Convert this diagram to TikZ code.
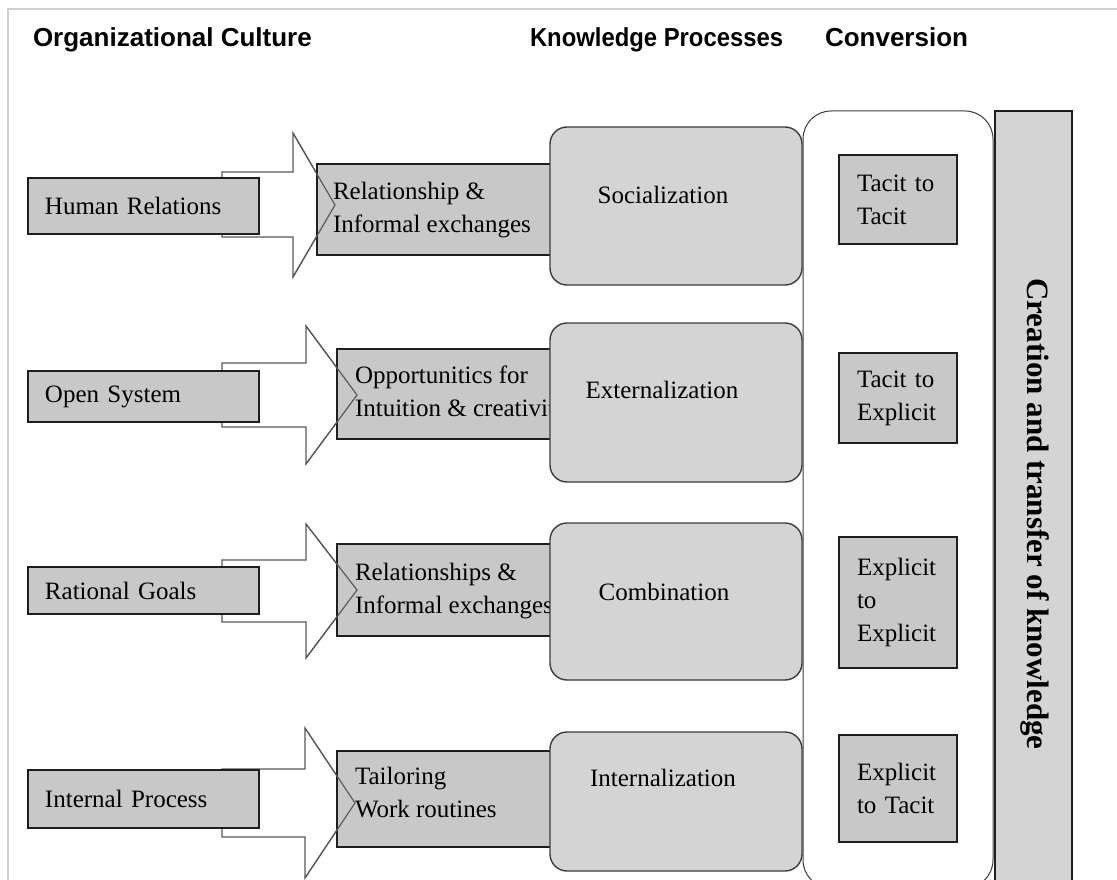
\documentclass[tikz,border=0pt]{standalone}
\usepackage{fontspec}
\setmainfont{Liberation Serif}
\newfontfamily\hdrfont{Liberation Sans}
\definecolor{boxgray}{HTML}{C8C8C8}
\definecolor{roundgray}{HTML}{D4D4D4}
\definecolor{edge}{HTML}{1E1E1E}
\definecolor{redge}{HTML}{3C3C3C}
\definecolor{arrowedge}{HTML}{5A5A5A}
\definecolor{framegray}{HTML}{D0D0D0}
\newcommand{\blockarrow}[8]{%
  \draw[arrowbody] (#1,#2) -- (#4,#2) -- (#4,#5) -- (#7,#8) -- (#4,#6) -- (#4,#3) -- (#1,#3) -- cycle;}
\newcommand{\arrowhead}[5]{%
  \draw[arrowline] (#1,#2) -- (#4,#5) -- (#1,#3);}
\begin{document}
\begin{tikzpicture}[x=1pt,y=-1pt,
  every node/.style={inner sep=0pt, outer sep=0pt},
  txt/.style={font=\fontsize{25}{33}\selectfont},
  hdr/.style={font=\hdrfont\bfseries\fontsize{26}{30}\selectfont, anchor=base west},
  leftbox/.style={draw=edge, line width=1.6pt, fill=boxgray, anchor=north west, txt, align=left, inner xsep=17pt, minimum width=231pt},
  midbox/.style={draw=edge, line width=1.6pt, fill=boxgray, anchor=north west},
  midtext/.style={txt, align=left, anchor=west},
  kbox/.style={draw=redge, line width=1.4pt, fill=roundgray, rounded corners=17pt, anchor=north west, minimum width=252pt},
  convbig/.style={draw=redge, line width=1pt, fill=white, rounded corners=28pt, anchor=north west},
  convbox/.style={draw=edge, line width=1.6pt, fill=boxgray, anchor=north west, txt, align=left, inner xsep=18pt, text width=82pt},
  barbox/.style={draw=edge, line width=1.4pt, fill=roundgray, anchor=north west},
  arrowbody/.style={draw=arrowedge, line width=1.2pt, fill=white, line join=miter},
  arrowline/.style={draw=arrowedge, line width=1.2pt},
  framel/.style={draw=framegray, line width=2pt}
]
\useasboundingbox (0,0) rectangle (1117,880);
\fill[white] (0,0) rectangle (1117,880);
% frame
\draw[framel] (1117,9) -- (8,9) -- (8,880);

% headers
\node[hdr] (h1) at (33,47) {Organizational Culture};
\node[hdr, transform shape, xscale=0.917] (h2) at (530,47) {Knowledge Processes};
\node[hdr] (h3) at (825,47) {Conversion};

% conversion container and bar
\node[convbig, minimum width=190pt, minimum height=777pt] (conv) at (803,111) {};
\node[barbox, minimum width=77pt, minimum height=790pt] (bar) at (995,111) {};
\node[rotate=-90, font=\bfseries\fontsize{31}{36}\selectfont] (bartext) at (1035,514) {Creation and transfer of knowledge};

% block arrows
\blockarrow{222}{172}{237}{293}{133}{277}{335}{205}
\blockarrow{222}{363}{427}{306}{326}{464}{357}{395}
\blockarrow{222}{560}{622}{306}{524}{658}{357}{590}
\blockarrow{222}{769}{837}{305}{728}{878}{355}{803}

% middle boxes
\node[midbox, minimum width=253pt, minimum height=91pt] (m1) at (317,164) {};
\node[midbox, minimum width=233pt, minimum height=90pt] (m2) at (337,349) {};
\node[midbox, minimum width=233pt, minimum height=92pt] (m3) at (337,544) {};
\node[midbox, minimum width=233pt, minimum height=96pt] (m4) at (337,751) {};
\node[midtext] (m1t) at (333,210) {Relationship \&\\Informal exchanges};
\node[midtext] (m2t) at (355,394) {Opportunitics for\\Intuition \& creativity};
\node[midtext] (m3t) at (355,591) {Relationships \&\\Informal exchanges};
\node[midtext] (m4t) at (355,793) {Tailoring\\Work routines};

% arrow heads over boxes
\arrowhead{293}{133}{277}{335}{205}
\arrowhead{306}{326}{464}{357}{395}
\arrowhead{306}{524}{658}{357}{590}
\arrowhead{305}{728}{878}{355}{803}

% left boxes
\node[leftbox, text width=197pt, minimum height=56pt] (l1) at (28,178) {Human Relations};
\node[leftbox, text width=197pt, minimum height=51pt] (l2) at (28,371) {Open System};
\node[leftbox, text width=197pt, minimum height=47pt] (l3) at (28,567) {Rational Goals};
\node[leftbox, text width=197pt, minimum height=58pt] (l4) at (28,770) {Internal Process};

% knowledge process boxes
\node[kbox, minimum height=158pt] (k1) at (550,127) {};
\node[kbox, minimum height=159pt] (k2) at (550,323) {};
\node[kbox, minimum height=157pt] (k3) at (550,523) {};
\node[kbox, minimum height=139pt] (k4) at (550,732) {};
\node[txt] (k1t) at (663,195) {Socialization};
\node[txt] (k2t) at (662,390) {Externalization};
\node[txt] (k3t) at (664,592) {Combination};
\node[txt] (k4t) at (663,778) {Internalization};

% conversion boxes
\node[convbox, minimum height=89pt] (c1) at (839,155) {Tacit to\\Tacit};
\node[convbox, minimum height=90pt] (c2) at (839,353) {Tacit to\\Explicit};
\node[convbox, minimum height=131pt] (c3) at (839,537) {Explicit\\to\\Explicit};
\node[convbox, minimum height=107pt] (c4) at (839,735) {Explicit\\to Tacit};
\end{tikzpicture}
\end{document}
